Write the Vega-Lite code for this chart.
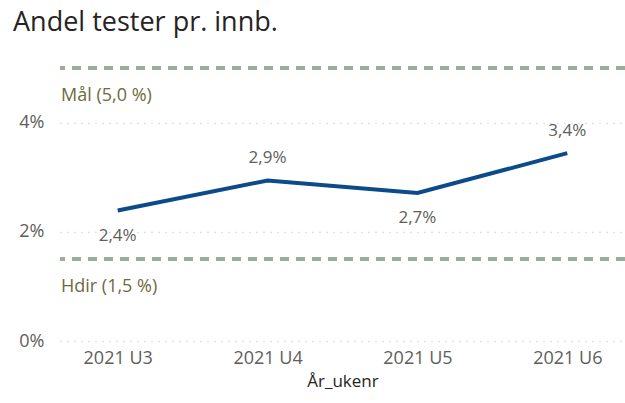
{
  "$schema": "https://vega.github.io/schema/vega-lite/v6.json",
  "autosize": "none",
  "width": 565,
  "height": 273,
  "padding": {"left": 60, "top": 68, "right": 0, "bottom": 62},
  "background": "white",
  "config": {
    "locale": {"number": {"decimal": ",", "thousands": " ", "grouping": [3], "currency": ["", " kr"]}},
    "view": {"stroke": null},
    "font": "Open Sans"
  },
  "title": {
    "text": "Andel tester pr. innb.",
    "anchor": "start",
    "frame": "group",
    "dx": -47,
    "offset": 29,
    "font": "Open Sans",
    "fontSize": 27,
    "fontWeight": 500,
    "color": "#252423"
  },
  "datasets": {
    "tests": [
      {"uke": "2021 U3", "andel": 0.0239},
      {"uke": "2021 U4", "andel": 0.0294},
      {"uke": "2021 U5", "andel": 0.0271},
      {"uke": "2021 U6", "andel": 0.0344}
    ],
    "refs": [
      {"navn": "Mål (5,0 %)", "verdi": 0.05},
      {"navn": "Hdir (1,5 %)", "verdi": 0.015}
    ]
  },
  "layer": [
    {
      "data": {"name": "refs"},
      "mark": {"type": "rule", "color": "#9BAE98", "strokeWidth": 4, "strokeDash": [9, 7]},
      "encoding": {
        "y": {"field": "verdi", "type": "quantitative", "scale": {"domain": [0, 0.05]}}
      }
    },
    {
      "data": {"name": "refs"},
      "mark": {"type": "text", "align": "left", "baseline": "middle", "dy": 28, "fontSize": 18, "color": "#6E6A40", "x": 1},
      "encoding": {
        "y": {"field": "verdi", "type": "quantitative"},
        "text": {"field": "navn"}
      }
    },
    {
      "data": {"name": "tests"},
      "mark": {"type": "line", "color": "#0B4A8B", "strokeWidth": 4},
      "encoding": {
        "x": {
          "field": "uke", "type": "ordinal",
          "scale": {"type": "point", "padding": 0.385},
          "axis": {
            "title": "År_ukenr", "titleFontSize": 17, "titleFontWeight": "normal", "titleColor": "#252423", "titlePadding": 6,
            "labelAngle": 0, "labelFontSize": 18, "labelColor": "#605E5C", "labelPadding": 8,
            "domain": false, "ticks": false, "grid": false
          }
        },
        "y": {
          "field": "andel", "type": "quantitative",
          "scale": {"domain": [0, 0.05]},
          "axis": {
            "title": null, "values": [0, 0.02, 0.04], "format": ".0%",
            "labelFontSize": 18, "labelColor": "#605E5C", "labelPadding": 16,
            "domain": false, "ticks": false,
            "grid": true, "gridColor": "#C8C6C4", "gridDash": [1, 6], "gridWidth": 1.5
          }
        }
      }
    },
    {
      "data": {"name": "tests"},
      "transform": [{"filter": "datum.uke == '2021 U3' || datum.uke == '2021 U5'"}],
      "mark": {"type": "text", "baseline": "middle", "dy": 25, "fontSize": 17, "color": "#605E5C"},
      "encoding": {
        "x": {"field": "uke", "type": "ordinal"},
        "y": {"field": "andel", "type": "quantitative"},
        "text": {"field": "andel", "type": "quantitative", "format": ".1%"}
      }
    },
    {
      "data": {"name": "tests"},
      "transform": [{"filter": "datum.uke == '2021 U4' || datum.uke == '2021 U6'"}],
      "mark": {"type": "text", "baseline": "middle", "dy": -22, "fontSize": 17, "color": "#605E5C"},
      "encoding": {
        "x": {"field": "uke", "type": "ordinal"},
        "y": {"field": "andel", "type": "quantitative"},
        "text": {"field": "andel", "type": "quantitative", "format": ".1%"}
      }
    }
  ]
}
